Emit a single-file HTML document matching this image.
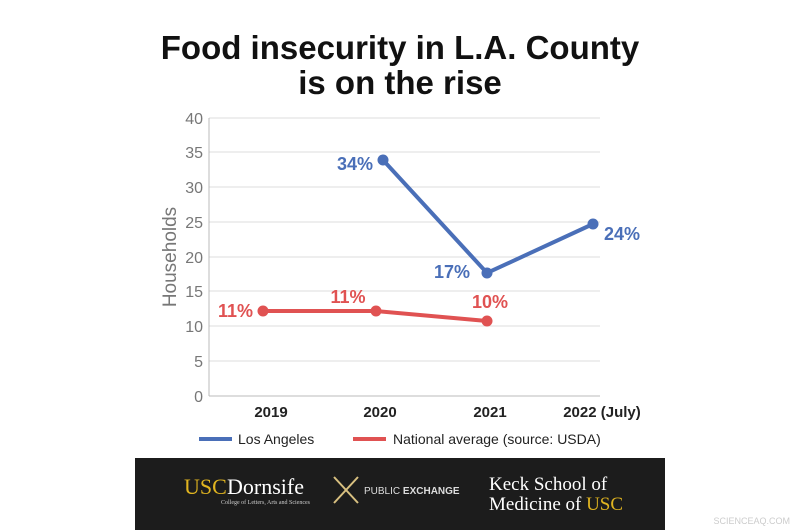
<!DOCTYPE html>
<html><head><style>
body{margin:0;width:800px;height:530px;background:#fff;overflow:hidden;font-family:"Liberation Sans",sans-serif;position:relative}
.t{position:absolute;left:0;width:800px;text-align:center;font-weight:bold;font-size:33px;color:#111;line-height:36px}
</style></head><body>
<div class="t" style="top:30px">Food insecurity in L.A. County</div>
<div class="t" style="top:65px">is on the rise</div>
<svg width="800" height="530" style="position:absolute;left:0;top:0">
<g stroke="#ddd" stroke-width="1">
<line x1="209" x2="600" y1="118" y2="118"/><line x1="209" x2="600" y1="152" y2="152"/>
<line x1="209" x2="600" y1="187" y2="187"/><line x1="209" x2="600" y1="222" y2="222"/>
<line x1="209" x2="600" y1="257" y2="257"/><line x1="209" x2="600" y1="291" y2="291"/>
<line x1="209" x2="600" y1="326" y2="326"/><line x1="209" x2="600" y1="361" y2="361"/>
<line x1="209" x2="600" y1="396" y2="396" stroke="#bbb"/><line x1="209" x2="209" y1="118" y2="396" stroke="#bbb"/>
</g>
<g font-size="16" fill="#777" text-anchor="end" font-family="Liberation Sans">
<text x="203" y="124">40</text><text x="203" y="158">35</text><text x="203" y="193">30</text>
<text x="203" y="228">25</text><text x="203" y="263">20</text><text x="203" y="297">15</text>
<text x="203" y="332">10</text><text x="203" y="367">5</text><text x="203" y="402">0</text>
</g>
<text transform="translate(176,257) rotate(-90)" text-anchor="middle" font-size="19" fill="#777">Households</text>
<g font-size="15" font-weight="bold" fill="#222" text-anchor="middle">
<text x="271" y="417">2019</text><text x="380" y="417">2020</text><text x="490" y="417">2021</text><text x="602" y="417">2022 (July)</text>
</g>
<polyline points="263,311 376,311 487,321" fill="none" stroke="#e05252" stroke-width="4"/>
<g fill="#e05252"><circle cx="263" cy="311" r="5.5"/><circle cx="376" cy="311" r="5.5"/><circle cx="487" cy="321" r="5.5"/></g>
<polyline points="383,160 487,273 593,224" fill="none" stroke="#4a6fb8" stroke-width="4"/>
<g fill="#4a6fb8"><circle cx="383" cy="160" r="5.5"/><circle cx="487" cy="273" r="5.5"/><circle cx="593" cy="224" r="5.5"/></g>
<g font-size="18" font-weight="bold">
<text x="373" y="170" text-anchor="end" fill="#4a6fb8">34%</text>
<text x="470" y="278" text-anchor="end" fill="#4a6fb8">17%</text>
<text x="604" y="240" fill="#4a6fb8">24%</text>
<text x="253" y="317" text-anchor="end" fill="#e05252">11%</text>
<text x="348" y="303" text-anchor="middle" fill="#e05252">11%</text>
<text x="490" y="308" text-anchor="middle" fill="#e05252">10%</text>
</g>
<rect x="199" y="437" width="33" height="4" fill="#4a6fb8"/>
<text x="238" y="444" font-size="14" fill="#222">Los Angeles</text>
<rect x="353" y="437" width="33" height="4" fill="#e05252"/>
<text x="393" y="444" font-size="14" fill="#222">National average (source: USDA)</text>
<rect x="135" y="458" width="530" height="72" fill="#1c1c1c"/>
<text x="184" y="494" font-family="Liberation Serif" font-size="22" fill="#e0b420">USC</text>
<text x="227" y="494" font-family="Liberation Serif" font-size="22" fill="#fff">Dornsife</text>
<text x="221" y="504" font-family="Liberation Serif" font-size="6" fill="#ccc">College of Letters, Arts and Sciences</text>
<g stroke="#d8c080" stroke-width="2"><line x1="334" y1="477" x2="358" y2="503"/><line x1="358" y1="477" x2="334" y2="503"/></g>
<text x="364" y="494" font-size="10" fill="#ddd">PUBLIC <tspan font-weight="bold">EXCHANGE</tspan></text>
<text x="489" y="490" font-family="Liberation Serif" font-size="19" fill="#fff">Keck School of</text>
<text x="489" y="510" font-family="Liberation Serif" font-size="19" fill="#fff">Medicine of <tspan fill="#e0b420">USC</tspan></text>
<text x="790" y="524" text-anchor="end" font-size="9" fill="#ccc">SCIENCEAQ.COM</text>
</svg>
</body></html>
